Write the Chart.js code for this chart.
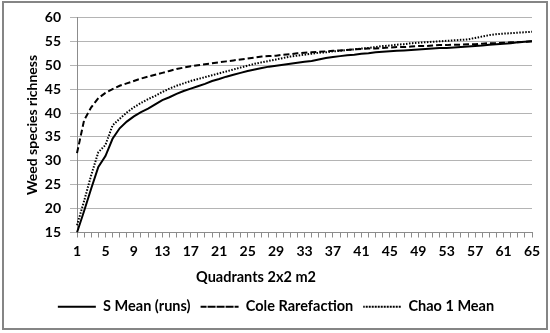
<!DOCTYPE html>
<html>
<head>
<meta charset="utf-8">
<script src="https://cdn.jsdelivr.net/npm/chart.js@4/dist/chart.umd.min.js"></script>
<style>
  html, body { margin: 0; padding: 0; background: #fff; }
  #wrap { width: 550px; height: 333px; position: relative; }
</style>
</head>
<body>
<div id="wrap"><canvas id="richnessChart"></canvas></div>
<script>
const quadrants = [1, 2, 3, 4, 5, 6, 7, 8, 9, 10, 11, 12, 13, 14, 15, 16, 17, 18, 19, 20,
  21, 22, 23, 24, 25, 26, 27, 28, 29, 30, 31, 32, 33, 34, 35, 36, 37, 38, 39, 40,
  41, 42, 43, 44, 45, 46, 47, 48, 49, 50, 51, 52, 53, 54, 55, 56, 57, 58, 59, 60,
  61, 62, 63, 64, 65];

const sMean = [15.0, 19.5, 24.2, 28.7, 31.0, 34.6, 36.8, 38.2, 39.3, 40.2,
  40.9, 41.8, 42.7, 43.3, 44.0, 44.6, 45.1, 45.6, 46.1, 46.7,
  47.1, 47.6, 48.0, 48.4, 48.8, 49.1, 49.4, 49.7, 49.9, 50.1,
  50.3, 50.5, 50.7, 50.9, 51.2, 51.5, 51.7, 51.9, 52.1, 52.2,
  52.4, 52.5, 52.7, 52.8, 52.9, 53.0, 53.1, 53.2, 53.3, 53.4,
  53.5, 53.6, 53.6, 53.7, 53.8, 53.9, 54.0, 54.1, 54.3, 54.4,
  54.5, 54.6, 54.8, 54.9, 55.0];

const coleRarefaction = [31.6, 38.5, 41.2, 43.1, 44.2, 45.0, 45.7, 46.2, 46.7, 47.2,
  47.6, 48.0, 48.4, 48.8, 49.2, 49.5, 49.8, 50.0, 50.2, 50.4,
  50.6, 50.8, 51.0, 51.2, 51.4, 51.6, 51.8, 51.9, 52.0, 52.2,
  52.3, 52.5, 52.6, 52.7, 52.8, 52.9, 53.0, 53.1, 53.2, 53.3,
  53.4, 53.5, 53.5, 53.6, 53.7, 53.8, 53.8, 53.9, 54.0, 54.0,
  54.1, 54.2, 54.2, 54.3, 54.3, 54.4, 54.4, 54.5, 54.6, 54.6,
  54.7, 54.8, 54.8, 54.9, 55.0];

const chao1Mean = [16.5, 21.6, 27.0, 31.8, 33.3, 37.4, 38.8, 40.1, 41.2, 42.1,
  42.9, 43.6, 44.4, 45.1, 45.7, 46.2, 46.7, 47.1, 47.5, 47.9,
  48.3, 48.7, 49.1, 49.5, 49.9, 50.3, 50.6, 50.9, 51.2, 51.5,
  51.8, 52.0, 52.2, 52.4, 52.6, 52.7, 52.9, 53.0, 53.2, 53.3,
  53.5, 53.6, 53.8, 54.0, 54.1, 54.3, 54.4, 54.6, 54.7, 54.8,
  54.9, 55.0, 55.1, 55.2, 55.3, 55.4, 55.7, 56.0, 56.3, 56.5,
  56.6, 56.7, 56.8, 56.9, 57.0];

const FONT = 'Lato, "Open Sans", sans-serif';

// frame round the whole chart and the x axis title
const framePlugin = {
  id: 'frame',
  afterDraw(chart) {
    const ctx = chart.ctx;
    ctx.save();
    ctx.strokeStyle = '#858585';
    ctx.lineWidth = 2;
    ctx.strokeRect(3, 2, 544, 327);
    ctx.fillStyle = '#000';
    ctx.font = 'bold 14.5px ' + FONT;
    ctx.textAlign = 'center';
    ctx.textBaseline = 'middle';
    ctx.fillText('Quadrants 2x2 m2', 256, 277);
    ctx.restore();
  }
};

const ctx = document.getElementById('richnessChart').getContext('2d');
new Chart(ctx, {
  type: 'line',
  data: {
    labels: quadrants,
    datasets: [{
      label: 'S Mean (runs)',
      data: sMean,
      borderColor: '#000',
      backgroundColor: '#000',
      borderWidth: 2,
      pointRadius: 0,
      tension: 0
    }, {
      label: 'Cole Rarefaction',
      data: coleRarefaction,
      borderColor: '#000',
      backgroundColor: '#000',
      borderWidth: 2,
      borderDash: [6, 3],
      pointRadius: 0,
      tension: 0
    }, {
      label: 'Chao 1 Mean',
      data: chao1Mean,
      borderColor: '#000',
      backgroundColor: '#000',
      borderWidth: 2,
      borderDash: [1.5, 1.5],
      pointRadius: 0,
      tension: 0
    }]
  },
  options: {
    responsive: true,
    maintainAspectRatio: false,
    animation: false,
    layout: { padding: { left: 20, right: 18, top: 16, bottom: 9 } },
    plugins: {
      legend: {
        position: 'bottom',
        labels: {
          color: '#000',
          font: { family: FONT, size: 14.5, weight: 'bold' },
          boxWidth: 38,
          boxHeight: 0,
          padding: 10
        }
      },
      tooltip: { enabled: false }
    },
    scales: {
      x: {
        offset: false,
        grid: {
          offset: false,
          drawOnChartArea: false,
          tickLength: 5,
          color: '#8c8c8c'
        },
        border: { color: '#8c8c8c' },
        ticks: {
          autoSkip: false,
          maxRotation: 0,
          padding: 6,
          color: '#000',
          font: { family: FONT, size: 14, weight: 'bold' },
          callback: (val, i) => (i % 4 === 0 ? quadrants[i] : '')
        },
        afterFit: s => { s.height = 57; }
      },
      y: {
        min: 15,
        max: 60,
        ticks: {
          stepSize: 5,
          padding: 9,
          color: '#000',
          font: { family: FONT, size: 14, weight: 'bold' }
        },
        grid: { color: '#b4b4b4', tickLength: 7 },
        border: { color: '#8c8c8c' },
        title: {
          display: true,
          text: 'Weed species richness',
          color: '#000',
          font: { family: FONT, size: 14, weight: 'bold' },
          padding: { top: 4, bottom: 0 }
        },
        afterFit: s => { s.width = 57; }
      }
    }
  },
  plugins: [framePlugin]
});
</script>
</body>
</html>
